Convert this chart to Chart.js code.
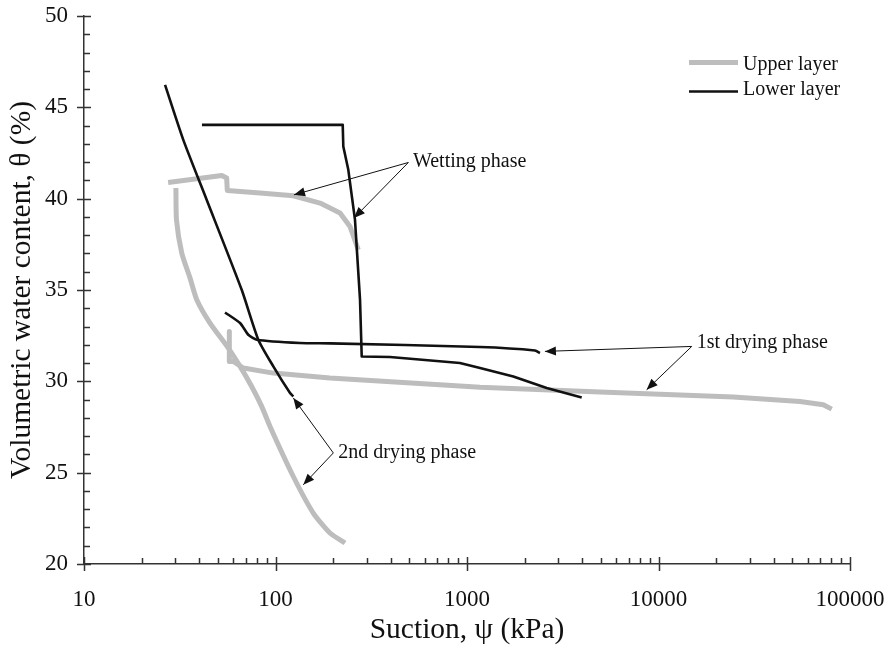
<!DOCTYPE html>
<html>
<head>
<meta charset="utf-8">
<script src="https://cdn.jsdelivr.net/npm/chart.js@4.4.0/dist/chart.umd.min.js"></script>
<style>
  html, body { margin: 0; padding: 0; background: #fff; }
</style>
</head>
<body>
<canvas id="plot" width="889" height="648"></canvas>
<script>
// curves: suction (kPa) and volumetric water content (%)
const upperWetSuction = [27.5, 52.4, 55.6, 56.0, 83.0, 123.9, 170.8, 217.2, 244.9, 270.6];
const upperWetTheta   = [40.89, 41.27, 41.13, 40.45, 40.31, 40.16, 39.76, 39.21, 38.48, 37.2];

const upperDry1Suction = [57.4, 57.4, 60.2, 67.9, 97.4, 192.6, 1170, 4949, 24580, 54830, 72560, 80270];
const upperDry1Theta   = [32.73, 31.09, 31.09, 30.73, 30.45, 30.18, 29.67, 29.41, 29.14, 28.9, 28.72, 28.48];

const upperDry2Suction = [30.2, 30.4, 32.4, 35.8, 38.8, 45.5, 56.7, 65.3, 75.1, 84.7, 93.6, 123.9, 157.5, 192.6, 230.7];
const upperDry2Theta   = [40.58, 38.85, 37.02, 35.65, 34.47, 33.19, 31.82, 30.82, 29.72, 28.63, 27.53, 24.79, 22.79, 21.7, 21.15];

const lowerWetSuction = [41.3, 224.4, 226, 240, 260, 276.3, 282, 396, 918, 1170, 1745, 2608, 3972];
const lowerWetTheta   = [44.04, 44.04, 42.86, 41.58, 38.85, 34.47, 31.36, 31.33, 31.0, 30.73, 30.27, 29.63, 29.12];

const lowerDry1Suction = [54.5, 65.3, 72.1, 79.8, 134, 192.6, 1170, 2265, 2405];
const lowerDry1Theta   = [33.77, 33.19, 32.55, 32.28, 32.1, 32.08, 31.88, 31.69, 31.55];

const lowerDry2Suction = [26.5, 33.0, 43.7, 66.6, 81.3, 97.4, 119.1, 123.9];
const lowerDry2Theta   = [46.23, 43.22, 39.94, 35.01, 32.28, 30.82, 29.36, 29.17];

const xTickValues = [10, 100, 1000, 10000, 100000];
const yTickValues = [20, 25, 30, 35, 40, 45, 50];

const legendLabels = ['Upper layer', 'Lower layer'];

// callouts: label position, then arrow start and arrow tips, all in data units
const callouts = [
  { text: 'Wetting phase', at: [522, 41.73], from: [494, 41.98], tips: [[124.9, 40.21], [257, 38.94]] },
  { text: '1st drying phase', at: [15830, 31.82], from: [14910, 31.91], tips: [[2552, 31.64], [8670, 29.54]] },
  { text: '2nd drying phase', at: [212.8, 25.80], from: [200.4, 26.08], tips: [[123.9, 29.09], [139.7, 24.34]] }
];

const GREY = '#bdbdbd';
const BLACK = '#111';
const FONT = "'Liberation Serif', 'Times New Roman', serif";

function pts(xs, ys) {
  return xs.map((x, i) => ({ x: x, y: ys[i] }));
}

function curve(xs, ys, color, width, tension) {
  return {
    data: pts(xs, ys),
    showLine: true,
    borderColor: color,
    backgroundColor: color,
    borderWidth: width,
    pointRadius: 0,
    tension: tension,
    borderJoinStyle: 'round'
  };
}

// black curves first so they sit on top of the grey ones
const datasets = [
  curve(lowerWetSuction, lowerWetTheta, BLACK, 2.6, 0),
  curve(lowerDry1Suction, lowerDry1Theta, BLACK, 2.6, 0.2),
  curve(lowerDry2Suction, lowerDry2Theta, BLACK, 2.6, 0.2),
  curve(upperWetSuction, upperWetTheta, GREY, 5, 0),
  curve(upperDry1Suction, upperDry1Theta, GREY, 5, 0),
  curve(upperDry2Suction, upperDry2Theta, GREY, 5, 0.2)
];

function arrowHead(ctx, x0, y0, x1, y1) {
  const a = Math.atan2(y1 - y0, x1 - x0);
  const len = 11, half = 4.5;
  ctx.beginPath();
  ctx.moveTo(x1, y1);
  ctx.lineTo(x1 - len * Math.cos(a) + half * Math.sin(a), y1 - len * Math.sin(a) - half * Math.cos(a));
  ctx.lineTo(x1 - len * Math.cos(a) - half * Math.sin(a), y1 - len * Math.sin(a) + half * Math.cos(a));
  ctx.closePath();
  ctx.fill();
}

const decor = {
  id: 'decor',
  afterDraw(chart) {
    const ctx = chart.ctx;
    const xs = chart.scales.x, ys = chart.scales.y;
    const area = chart.chartArea;
    ctx.save();
    ctx.strokeStyle = '#333';
    ctx.lineWidth = 1.5;

    // x tick marks: minor inside, major across the axis
    ctx.beginPath();
    for (let d = 10; d < 100000; d *= 10) {
      for (let m = 2; m <= 9; m++) {
        const px = Math.round(xs.getPixelForValue(m * d)) + 0.5;
        ctx.moveTo(px, area.bottom);
        ctx.lineTo(px, area.bottom - 6);
      }
    }
    xTickValues.forEach(v => {
      const px = Math.round(xs.getPixelForValue(v)) + 0.5;
      ctx.moveTo(px, area.bottom - 7);
      ctx.lineTo(px, area.bottom + 7);
    });
    // y tick marks
    for (let v = 20; v <= 50; v++) {
      const py = Math.round(ys.getPixelForValue(v)) + 0.5;
      if (v % 5 === 0) {
        ctx.moveTo(area.left - 7, py);
        ctx.lineTo(area.left + 7, py);
      } else {
        ctx.moveTo(area.left, py);
        ctx.lineTo(area.left + 6, py);
      }
    }
    ctx.stroke();

    // callouts
    ctx.strokeStyle = '#111';
    ctx.fillStyle = '#111';
    ctx.lineWidth = 1;
    ctx.font = '20px ' + FONT;
    ctx.textBaseline = 'alphabetic';
    ctx.textAlign = 'left';
    callouts.forEach(c => {
      const fx = xs.getPixelForValue(c.from[0]), fy = ys.getPixelForValue(c.from[1]);
      c.tips.forEach(t => {
        const tx = xs.getPixelForValue(t[0]), ty = ys.getPixelForValue(t[1]);
        ctx.beginPath();
        ctx.moveTo(fx, fy);
        ctx.lineTo(tx, ty);
        ctx.stroke();
        arrowHead(ctx, fx, fy, tx, ty);
      });
      ctx.fillText(c.text, xs.getPixelForValue(c.at[0]), ys.getPixelForValue(c.at[1]));
    });

    // legend, top right inside the plot
    const lx = area.right - 161, tx = area.right - 107;
    ctx.lineWidth = 5;
    ctx.strokeStyle = GREY;
    ctx.beginPath(); ctx.moveTo(lx, 62.5); ctx.lineTo(lx + 49, 62.5); ctx.stroke();
    ctx.lineWidth = 2.6;
    ctx.strokeStyle = BLACK;
    ctx.beginPath(); ctx.moveTo(lx, 91.5); ctx.lineTo(lx + 49, 91.5); ctx.stroke();
    ctx.fillStyle = '#111';
    ctx.fillText(legendLabels[0], tx, 69.5);
    ctx.fillText(legendLabels[1], tx, 94.5);
    ctx.restore();
  }
};

new Chart(document.getElementById('plot').getContext('2d'), {
  type: 'scatter',
  data: { datasets: datasets },
  options: {
    responsive: false,
    animation: false,
    layout: { padding: { top: 16, right: 39, bottom: 0, left: 0 } },
    plugins: { legend: { display: false }, tooltip: { enabled: false } },
    scales: {
      x: {
        type: 'logarithmic',
        min: 10,
        max: 100000,
        afterBuildTicks: s => { s.ticks = xTickValues.map(v => ({ value: v })); },
        afterFit: s => { s.height = 84; s.paddingLeft = 0; s.paddingRight = 0; },
        grid: { display: false, drawTicks: false },
        border: { display: true, color: '#333', width: 1.5 },
        ticks: {
          padding: 22,
          color: '#111',
          font: { family: FONT, size: 23 },
          autoSkip: false,
          maxRotation: 0,
          callback: v => String(v)
        },
        title: {
          display: true,
          text: 'Suction, ψ (kPa)',
          color: '#111',
          font: { family: FONT, size: 29.5 },
          padding: { top: 0, bottom: 0 }
        }
      },
      y: {
        type: 'linear',
        min: 20,
        max: 50,
        afterBuildTicks: s => { s.ticks = yTickValues.map(v => ({ value: v })); },
        afterFit: s => { s.width = 84; s.paddingTop = 0; s.paddingBottom = 0; },
        grid: { display: false, drawTicks: false },
        border: { display: true, color: '#333', width: 1.5 },
        ticks: {
          padding: 16,
          color: '#111',
          font: { family: FONT, size: 23 }
        },
        title: {
          display: true,
          text: 'Volumetric water content, θ (%)',
          color: '#111',
          font: { family: FONT, size: 29.5 },
          padding: { top: 5, bottom: 0 }
        }
      }
    }
  },
  plugins: [decor]
});
</script>
</body>
</html>
